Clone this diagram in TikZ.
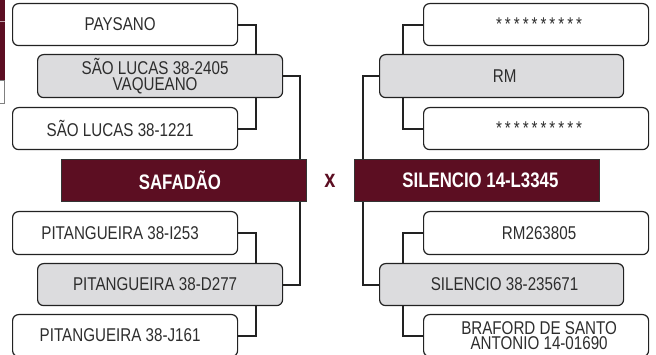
\documentclass[tikz,border=0pt]{standalone}
\usepackage{fontspec}
\setmainfont[FakeStretch=0.82]{Liberation Sans}
\newfontfamily\bcond[FakeStretch=0.8]{Liberation Sans}
\pgfdeclarelayer{bg}
\pgfsetlayers{bg,main}
\definecolor{maroon}{RGB}{92,14,34}
\definecolor{boxgray}{RGB}{220,220,222}
\definecolor{ink}{RGB}{45,45,45}
\definecolor{edge}{RGB}{34,34,34}
\begin{document}
\begin{tikzpicture}[x=1pt,y=-1pt,
 box/.style={draw=edge, line width=1.2pt, rounded corners=6pt, anchor=north west, inner sep=0pt, align=center, text=ink, font=\fontsize{18.5}{15.3}\selectfont},
 wbox/.style={box, fill=white, minimum width=225pt, minimum height=42pt},
 gbox/.style={box, fill=boxgray, minimum width=245pt, minimum height=43pt},
 mbox/.style={anchor=north west, fill=maroon, draw=black!80, line width=0.8pt, minimum width=245pt, minimum height=42pt, inner sep=0pt, text=white, font=\bcond\bfseries\fontsize{21}{21}\selectfont},
 conn/.style={draw=edge, line width=2pt}]
\useasboundingbox (0,0) rectangle (656,355);
\newcommand{\Ls}{\rule{10pt}{0pt}}
\newcommand{\Rs}{\rule{6pt}{0pt}}
\newcommand{\stars}{*\kern3pt*\kern3pt*\kern3pt*\kern3pt*\kern3pt*\kern3pt*\kern3pt*\kern3pt*\kern3pt*}
% left edge fragments
\fill[maroon] (0,0) rectangle (5,80);
\draw[white!60!maroon, line width=0.6pt] (0,21) -- (5,21);
\draw[gray, line width=0.8pt, fill=white] (-2,80) rectangle (4,103);
% left tree
\node[wbox] (p1) at (12,3) {PAYSANO\Ls};
\node[gbox] (g1) at (37,54) {SÃO LUCAS 38-2405\Ls\\VAQUEANO\Ls};
\node[wbox] (p2) at (12,107) {SÃO LUCAS 38-1221\Ls};
\node[mbox] (saf) at (61,159) {SAFADÃO\rule{8pt}{0pt}};
\node[wbox, minimum height=43pt] (p3) at (12,211) {PITANGUEIRA 38-I253\Ls};
\node[gbox, minimum height=42pt] (g2) at (37,263) {PITANGUEIRA 38-D277\Ls};
\node[wbox] (p4) at (12,314) {PITANGUEIRA 38-J161\Ls};
% cross
\node[text=maroon, font=\bcond\bfseries\fontsize{25}{25}\selectfont] (vs) at (330,181) {x};
% right tree
\node[wbox] (r1) at (423,3) {\Rs\stars};
\node[gbox, minimum width=244pt] (rg1) at (379,54) {\Rs RM};
\node[wbox] (r2) at (423,107) {\Rs\stars};
\node[mbox] (sil) at (354,159) {\rule{7pt}{0pt}SILENCIO 14-L3345};
\node[wbox, minimum height=43pt] (r3) at (423,211) {\Rs RM263805};
\node[gbox, minimum width=244pt, minimum height=42pt] (rg2) at (379,263) {\Rs SILENCIO 38-235671};
\node[wbox] (r4) at (423,314) {\Rs BRAFORD DE SANTO\\\Rs ANTONIO 14-01690};
\begin{pgfonlayer}{bg}
\draw[conn] (p1.east) -- ++(18,0) |- (p2.east);
\draw[conn] (g1.east) -| ([xshift=-7pt]saf.north east);
\draw[conn] (p3.east) -- ++(18,0) |- (p4.east);
\draw[conn] (g2.east) -| ([xshift=-7pt]saf.south east);
\draw[conn] (r1.west) -- ++(-20,0) |- (r2.west);
\draw[conn] (rg1.west) -| ([xshift=9pt]sil.north west);
\draw[conn] (r3.west) -- ++(-20,0) |- (r4.west);
\draw[conn] (rg2.west) -| ([xshift=9pt]sil.south west);
\end{pgfonlayer}
\end{tikzpicture}
\end{document}
